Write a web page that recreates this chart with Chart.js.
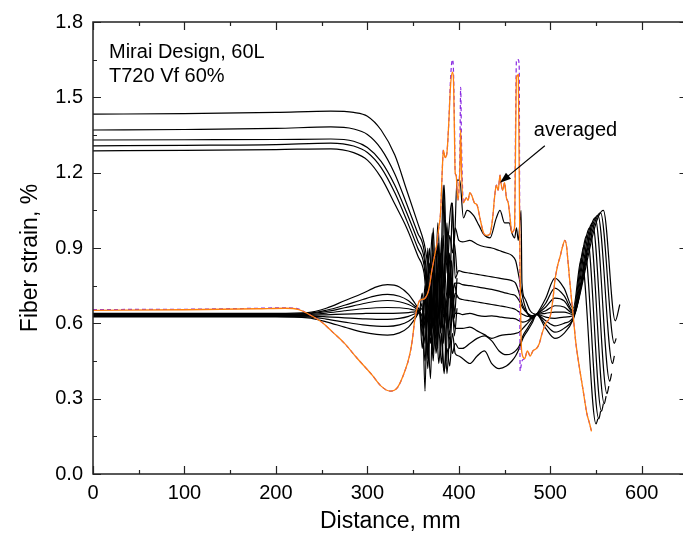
<!DOCTYPE html>
<html>
<head>
<meta charset="utf-8">
<script src="https://cdn.jsdelivr.net/npm/chart.js@4.4.1/dist/chart.umd.min.js"></script>
<style>
  html, body { margin: 0; padding: 0; background: #fff; overflow: hidden; }
  #wrap { width: 683px; height: 538px; overflow: hidden; }
</style>
</head>
<body>
<div id="wrap"><canvas id="chart" width="690" height="538"></canvas></div>
<script>
// upper family (5 curves), flat then falling into the noisy zone
const xUpHead = [0, 100, 200, 260, 285, 300, 315, 330, 343, 355, 362];
const upperHead = [
  [1.433, 1.435, 1.440, 1.445, 1.440, 1.425, 1.370, 1.270, 1.130, 1.000, 0.920],
  [1.370, 1.372, 1.376, 1.382, 1.374, 1.352, 1.295, 1.195, 1.075, 0.960, 0.890],
  [1.330, 1.331, 1.332, 1.334, 1.325, 1.300, 1.245, 1.150, 1.040, 0.930, 0.860],
  [1.307, 1.309, 1.312, 1.318, 1.306, 1.280, 1.220, 1.120, 1.010, 0.900, 0.830],
  [1.287, 1.289, 1.292, 1.295, 1.280, 1.250, 1.180, 1.075, 0.980, 0.870, 0.800]
];
const xNoiseU = [365, 368, 371, 374, 377, 380, 383, 386, 389, 392, 395, 398];
const upperNoise = [
  [0.86, 0.80, 0.96, 0.70, 1.00, 0.78, 1.15, 0.85, 0.97, 1.08, 0.92, 1.17],
  [0.78, 0.62, 0.88, 0.55, 0.82, 0.66, 0.95, 0.60, 0.88, 0.70, 0.92, 0.80],
  [0.76, 0.90, 0.58, 0.80, 0.50, 0.88, 0.64, 0.98, 0.72, 0.85, 0.62, 0.78],
  [0.72, 0.55, 0.84, 0.62, 0.92, 0.56, 0.78, 0.45, 0.82, 0.60, 0.76, 0.70],
  [0.70, 0.84, 0.50, 0.76, 0.60, 0.86, 0.52, 0.70, 0.58, 0.78, 0.55, 0.66]
];
// top black line under the averaged curve
const xTop = [401, 405, 409, 416, 422, 427, 434, 441, 445, 450, 455, 458, 461, 463, 465, 468, 469, 472, 478, 485];
const topBlack = [1.17, 1.02, 1.05, 1.03, 0.99, 0.955, 0.94, 1.02, 1.05, 1.00, 1.00, 0.96, 0.94, 0.98, 0.93, 1.05, 0.76, 0.70, 0.65, 0.636];

// lower family (8 curves)
const xLowHead = [0, 100, 200, 235, 255, 275, 295, 310, 322, 335, 345, 352, 357];
const lowerHead = [
  [0.640, 0.640, 0.640, 0.643, 0.660, 0.690, 0.720, 0.745, 0.754, 0.745, 0.715, 0.680, 0.655],
  [0.638, 0.638, 0.638, 0.640, 0.652, 0.672, 0.695, 0.710, 0.715, 0.708, 0.690, 0.668, 0.652],
  [0.636, 0.636, 0.636, 0.638, 0.647, 0.662, 0.678, 0.688, 0.691, 0.686, 0.675, 0.662, 0.650],
  [0.634, 0.634, 0.634, 0.635, 0.641, 0.650, 0.658, 0.662, 0.663, 0.662, 0.658, 0.653, 0.650],
  [0.632, 0.632, 0.632, 0.632, 0.634, 0.637, 0.639, 0.640, 0.640, 0.641, 0.643, 0.646, 0.648],
  [0.630, 0.630, 0.630, 0.629, 0.626, 0.622, 0.618, 0.616, 0.616, 0.620, 0.628, 0.638, 0.647],
  [0.628, 0.628, 0.628, 0.626, 0.617, 0.605, 0.594, 0.589, 0.588, 0.594, 0.608, 0.628, 0.645],
  [0.626, 0.626, 0.626, 0.622, 0.606, 0.585, 0.565, 0.556, 0.553, 0.562, 0.585, 0.618, 0.643]
];
const xNoiseL = [360, 363, 366, 369, 372, 375, 378, 381, 384, 387, 390, 393, 396, 400];
const lowerNoise = [
  [0.72, 0.58, 0.90, 0.62, 0.98, 0.70, 0.85, 0.66, 1.15, 0.80, 0.95, 0.88, 0.98, 0.93],
  [0.60, 0.75, 0.48, 0.82, 0.66, 0.90, 0.62, 0.94, 0.74, 1.00, 0.70, 1.08, 0.78, 0.81],
  [0.68, 0.33, 0.78, 0.55, 0.86, 0.60, 0.92, 0.58, 0.84, 0.70, 0.88, 0.73, 0.76, 0.76],
  [0.55, 0.70, 0.60, 0.38, 0.74, 0.52, 0.80, 0.63, 0.72, 0.58, 0.80, 0.66, 0.72, 0.70],
  [0.66, 0.52, 0.74, 0.64, 0.45, 0.70, 0.56, 0.76, 0.60, 0.68, 0.55, 0.72, 0.64, 0.64],
  [0.58, 0.72, 0.46, 0.68, 0.58, 0.50, 0.66, 0.54, 0.40, 0.62, 0.50, 0.64, 0.58, 0.58],
  [0.62, 0.45, 0.66, 0.52, 0.70, 0.48, 0.58, 0.44, 0.62, 0.40, 0.55, 0.48, 0.52, 0.50],
  [0.50, 0.64, 0.42, 0.60, 0.48, 0.66, 0.44, 0.56, 0.41, 0.50, 0.43, 0.56, 0.48, 0.47]
];
const xMid = [404, 412, 420, 428, 436, 444, 452, 458, 462, 466, 470, 475, 480, 485];
const lowerMid = [
  [0.924, 0.930, 0.915, 0.905, 0.900, 0.890, 0.880, 0.870, 0.850, 0.780, 0.700, 0.640, 0.620, 0.636],
  [0.805, 0.800, 0.795, 0.790, 0.785, 0.780, 0.775, 0.770, 0.760, 0.720, 0.670, 0.640, 0.625, 0.636],
  [0.754, 0.750, 0.745, 0.740, 0.735, 0.728, 0.720, 0.715, 0.710, 0.690, 0.660, 0.640, 0.630, 0.636],
  [0.695, 0.690, 0.685, 0.680, 0.675, 0.670, 0.665, 0.660, 0.655, 0.645, 0.635, 0.628, 0.630, 0.636],
  [0.635, 0.640, 0.632, 0.628, 0.630, 0.626, 0.622, 0.620, 0.618, 0.610, 0.605, 0.610, 0.625, 0.636],
  [0.580, 0.585, 0.570, 0.555, 0.540, 0.550, 0.555, 0.557, 0.560, 0.565, 0.580, 0.600, 0.620, 0.636],
  [0.500, 0.520, 0.540, 0.550, 0.530, 0.490, 0.475, 0.480, 0.490, 0.510, 0.550, 0.580, 0.610, 0.636],
  [0.460, 0.440, 0.470, 0.490, 0.440, 0.420, 0.430, 0.450, 0.470, 0.500, 0.540, 0.570, 0.600, 0.636]
];
// right-hand oscillations (9 curves)
const xLens2 = [495, 505, 515, 525];
const lens2 = [
  [0.700, 0.780, 0.740, 0.660],
  [0.680, 0.740, 0.710, 0.650],
  [0.665, 0.700, 0.690, 0.645],
  [0.650, 0.670, 0.665, 0.640],
  [0.640, 0.645, 0.645, 0.635],
  [0.625, 0.620, 0.625, 0.630],
  [0.610, 0.590, 0.600, 0.625],
  [0.595, 0.565, 0.580, 0.620],
  [0.580, 0.540, 0.560, 0.615]
];
const tailPeakX = [534, 537, 540, 543, 546, 549, 552, 555, 558];
const tailPeakY = [0.86, 0.91, 0.95, 0.98, 1.00, 1.02, 1.03, 1.04, 1.05];
const tailLowX = [550, 553, 556, 559, 562, 565, 568, 570, 571];
const tailLowY = [0.20, 0.22, 0.25, 0.28, 0.32, 0.37, 0.44, 0.52, 0.61];
const tailEndX = [552, 555, 558, 561, 564, 567, 570, 572, 576];
const tailEndY = [0.22, 0.25, 0.28, 0.31, 0.35, 0.40, 0.47, 0.54, 0.675];

// averaged curves
const xAvg = [0, 100, 180, 210, 225, 234, 250, 262, 275, 289, 305, 315, 325, 333, 341, 346, 349, 352, 355, 357,
  360, 363, 366, 368, 370, 372, 374, 376, 378, 380, 382, 383, 385, 387, 389, 391, 393, 394, 395, 396,
  397, 399, 401, 402, 403, 405, 408, 410, 412, 414, 417, 420, 423, 427, 430, 434, 437, 439, 441, 443,
  445, 446, 448, 450, 452, 454, 456, 458, 460, 461, 462, 463, 465, 466, 467, 468, 469, 472, 475, 478,
  481, 485, 488, 491, 495, 500, 503, 505, 508, 511, 513, 516, 518, 519, 522, 525, 528, 532, 536, 540,
  543, 545];
const yOrange = [0.652, 0.654, 0.658, 0.660, 0.655, 0.640, 0.605, 0.565, 0.520, 0.460, 0.395, 0.350, 0.330, 0.345, 0.410, 0.470, 0.530, 0.620, 0.670, 0.690,
  0.695, 0.700, 0.720, 0.750, 0.800, 0.840, 0.880, 0.920, 0.980, 1.040, 1.220, 1.290, 1.260, 1.280, 1.400, 1.550, 1.600, 1.580, 1.400, 1.200,
  1.190, 1.090, 1.200, 1.370, 1.200, 1.080, 1.100, 1.090, 1.120, 1.110, 1.080, 1.070, 1.020, 0.960, 0.950, 0.955, 1.020, 1.100, 1.150, 1.130,
  1.190, 1.160, 1.130, 1.160, 1.100, 1.080, 1.020, 0.960, 0.970, 0.990, 1.300, 1.580, 1.590, 1.200, 0.800, 0.550, 0.480, 0.460, 0.490, 0.470,
  0.490, 0.500, 0.520, 0.560, 0.600, 0.630, 0.700, 0.770, 0.830, 0.870, 0.900, 0.930, 0.900, 0.860, 0.740, 0.630, 0.520, 0.420, 0.330, 0.240,
  0.200, 0.170];
const yPurple = [0.655, 0.656, 0.660, 0.662, 0.657, 0.640, 0.605, 0.565, 0.520, 0.460, 0.395, 0.350, 0.330, 0.345, 0.410, 0.470, 0.530, 0.620, 0.670, 0.690,
  0.695, 0.700, 0.720, 0.750, 0.800, 0.840, 0.880, 0.920, 0.980, 1.040, 1.220, 1.290, 1.260, 1.280, 1.400, 1.580, 1.650, 1.620, 1.450, 1.200,
  1.190, 1.090, 1.250, 1.540, 1.300, 1.080, 1.100, 1.090, 1.120, 1.110, 1.080, 1.070, 1.020, 0.960, 0.950, 0.955, 1.020, 1.100, 1.150, 1.130,
  1.190, 1.160, 1.130, 1.160, 1.100, 1.080, 1.020, 0.960, 0.970, 0.990, 1.400, 1.650, 1.650, 1.620, 0.410, 0.430, 0.450, 0.460, 0.490, 0.470,
  0.490, 0.500, 0.520, 0.560, 0.600, 0.630, 0.700, 0.770, 0.830, 0.870, 0.900, 0.930, 0.900, 0.860, 0.740, 0.630, 0.520, 0.420, 0.330, 0.240,
  0.200, 0.170];

const xTickLabels = [0, 100, 200, 300, 400, 500, 600];

function pts(xs, ys) {
  return xs.map((x, i) => ({ x: x, y: ys[i] }));
}

function tail(k) {
  return pts(xLens2, lens2[k]).concat([
    { x: tailPeakX[k], y: tailPeakY[k] },
    { x: tailLowX[k], y: tailLowY[k] },
    { x: tailEndX[k], y: tailEndY[k] }
  ]);
}

const blackStyle = {
  showLine: true, borderColor: '#000', borderWidth: 1.2, pointRadius: 0,
  cubicInterpolationMode: 'monotone', fill: false
};

// first dataset is drawn last (on top)
const datasets = [];
datasets.push({
  data: pts(xAvg, yOrange), showLine: true, borderColor: '#ff7f0e', borderWidth: 1.3,
  pointRadius: 0, cubicInterpolationMode: 'monotone'
});
datasets.push({
  data: pts(xAvg, yPurple), showLine: true, borderColor: '#8a2be2', borderWidth: 1.2,
  borderDash: [4, 3], pointRadius: 0, cubicInterpolationMode: 'monotone'
});

for (let i = 0; i < upperHead.length; i++) {
  let d = pts(xUpHead, upperHead[i]).concat(pts(xNoiseU, upperNoise[i]));
  if (i === 0) d = d.concat(pts(xTop, topBlack)).concat(tail(4));
  datasets.push(Object.assign({ data: d }, blackStyle));
}
const tailOf = [0, 1, 2, 3, 5, 6, 7, 8];
for (let j = 0; j < lowerHead.length; j++) {
  const d = pts(xLowHead, lowerHead[j])
    .concat(pts(xNoiseL, lowerNoise[j]))
    .concat(pts(xMid, lowerMid[j]))
    .concat(tail(tailOf[j]));
  datasets.push(Object.assign({ data: d }, blackStyle));
}

// texts drawn on the plot, in data coordinates
const notes = [
  { text: 'Mirai Design, 60L', x: 17.5, y: 1.658 },
  { text: 'T720 Vf 60%', x: 17.5, y: 1.563 },
  { text: 'averaged', x: 482, y: 1.346 }
];
const arrowFrom = { x: 494, y: 1.307 };
const arrowTo = { x: 445, y: 1.16 };

const FONT = '"Liberation Sans", Arial, sans-serif';

const framePlugin = {
  id: 'frame',
  afterDraw(chart) {
    const { ctx, chartArea: a, scales: { x, y } } = chart;
    ctx.save();
    ctx.strokeStyle = '#222';
    ctx.lineWidth = 1.5;
    ctx.strokeRect(a.left, a.top, a.right - a.left, a.bottom - a.top);

    ctx.lineWidth = 1.2;
    ctx.beginPath();
    for (let v = 0; v <= 650; v += 50) {
      const px = Math.round(x.getPixelForValue(v)) + 0.5;
      const len = v % 100 === 0 ? 8 : 4;
      ctx.moveTo(px, a.bottom); ctx.lineTo(px, a.bottom - len);
      ctx.moveTo(px, a.top); ctx.lineTo(px, a.top + len);
    }
    for (let k = 0; k <= 12; k++) {
      const py = Math.round(y.getPixelForValue(k * 0.15)) + 0.5;
      const len = k % 2 === 0 ? 8 : 4;
      ctx.moveTo(a.left, py); ctx.lineTo(a.left + len, py);
      ctx.moveTo(a.right, py); ctx.lineTo(a.right - len, py);
    }
    ctx.stroke();

    // axis titles
    ctx.fillStyle = '#000';
    ctx.font = '23px ' + FONT;
    ctx.textAlign = 'center';
    ctx.textBaseline = 'middle';
    ctx.fillText('Distance, mm', (a.left + a.right) / 2, 522);
    ctx.save();
    ctx.translate(31, 258);
    ctx.rotate(-Math.PI / 2);
    ctx.fillText('Fiber strain, %', 0, 0);
    ctx.restore();

    // notes
    ctx.font = '20px ' + FONT;
    ctx.textAlign = 'left';
    ctx.textBaseline = 'alphabetic';
    notes.forEach(n => {
      ctx.fillText(n.text, x.getPixelForValue(n.x), y.getPixelForValue(n.y));
    });

    // arrow
    const x0 = x.getPixelForValue(arrowFrom.x), y0 = y.getPixelForValue(arrowFrom.y);
    const x1 = x.getPixelForValue(arrowTo.x), y1 = y.getPixelForValue(arrowTo.y);
    const ang = Math.atan2(y1 - y0, x1 - x0);
    ctx.strokeStyle = '#000';
    ctx.lineWidth = 1.2;
    ctx.beginPath();
    ctx.moveTo(x0, y0);
    ctx.lineTo(x1 - 8 * Math.cos(ang), y1 - 8 * Math.sin(ang));
    ctx.stroke();
    ctx.beginPath();
    ctx.moveTo(x1, y1);
    ctx.lineTo(x1 - 11 * Math.cos(ang) + 4 * Math.sin(ang), y1 - 11 * Math.sin(ang) - 4 * Math.cos(ang));
    ctx.lineTo(x1 - 11 * Math.cos(ang) - 4 * Math.sin(ang), y1 - 11 * Math.sin(ang) + 4 * Math.cos(ang));
    ctx.closePath();
    ctx.fill();
    ctx.restore();
  }
};

new Chart(document.getElementById('chart'), {
  type: 'scatter',
  data: { datasets: datasets },
  options: {
    responsive: false,
    devicePixelRatio: 1,
    animation: false,
    layout: { padding: { left: 0, top: 18, right: 2.5, bottom: 0 } },
    plugins: { legend: { display: false }, tooltip: { enabled: false } },
    scales: {
      x: {
        type: 'linear', min: 0, max: 650,
        grid: { display: false, drawTicks: false },
        border: { display: false },
        afterBuildTicks: s => { s.ticks = xTickLabels.map(v => ({ value: v })); },
        afterFit: s => { s.height = 64; },
        ticks: { color: '#000', padding: 7, maxRotation: 0, font: { family: FONT, size: 20 } }
      },
      y: {
        type: 'linear', min: 0, max: 1.8,
        grid: { display: false, drawTicks: false },
        border: { display: false },
        afterFit: s => { s.width = 93; },
        ticks: {
          stepSize: 0.3, color: '#000', padding: 10,
          font: { family: FONT, size: 20 },
          callback: v => v.toFixed(1)
        }
      }
    }
  },
  plugins: [framePlugin]
});
</script>
</body>
</html>
